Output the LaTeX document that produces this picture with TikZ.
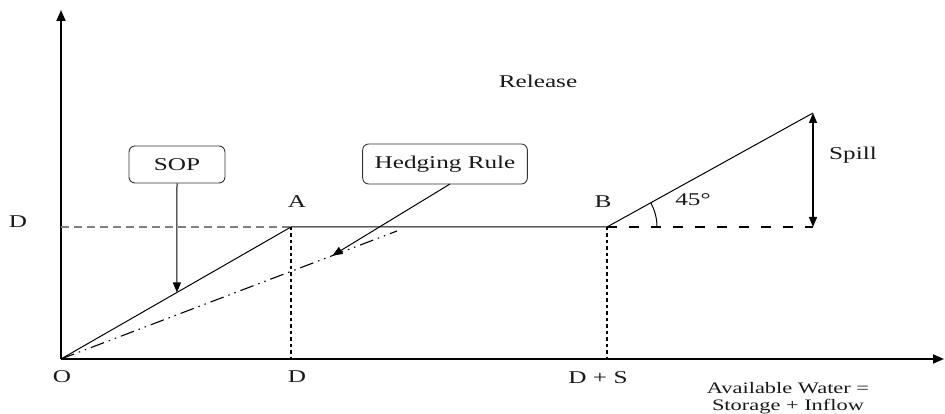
\documentclass[tikz,border=0pt]{standalone}
\usepackage{fontspec}
\setmainfont{Liberation Serif}[FakeStretch=1.4]
\usetikzlibrary{arrows.meta,calc}
\begin{document}
\begin{tikzpicture}[x=1pt,y=1pt,
  lbl/.style={font=\fontsize{18}{20}\selectfont, text=black!90, inner sep=0pt},
  sml/.style={font=\fontsize{16}{18}\selectfont, text=black!90, inner sep=0pt},
  callout/.style={draw=black!80, rounded corners=6pt, line width=0.9pt, minimum width=96pt, minimum height=37pt, font=\fontsize{18}{20}\selectfont, text=black!90},
  axis/.style={line width=1.8pt, -{Triangle[length=11pt,width=9pt]}},
  thin/.style={line width=1pt},
  tip/.style={-{Triangle[length=10pt,width=8pt]}}]
\useasboundingbox (0,0) rectangle (945,414);
\fill[white] (0,0) rectangle (945,414);
% key points
\coordinate (O) at (61,55);
\coordinate (Ytop) at (61,404);
\coordinate (Xend) at (944,55);
\coordinate (Dl) at (61,187);
\coordinate (A) at (291,187);
\coordinate (B) at (607,187);
\coordinate (E) at (813,187);
\coordinate (S) at (813,301);
\coordinate (Ag) at (291,55);
\coordinate (Bg) at (607,55);
\coordinate (He) at (397,183);
% axes
\draw[axis] (O) -- (Ytop);
\draw[axis] (O) -- (Xend);
% D level
\draw[gray, line width=1.2pt, dash pattern=on 8pt off 5pt] (Dl) -- (A);
\draw[thin] (O) -- (A) -- (B) -- (S);
\draw[line width=1.5pt, dash pattern=on 3.5pt off 3pt] (A) -- (Ag);
\draw[line width=1.5pt, dash pattern=on 3.5pt off 3pt] (B) -- (Bg);
\draw[line width=1.3pt, dash pattern=on 10pt off 12pt] (B) -- (E);
\draw[line width=1.4pt, {Triangle[length=10pt,width=8pt]}-{Triangle[length=10pt,width=8pt]}] (E) -- (S);
\draw[thin] ($(B)+(50,0)$) arc[start angle=0,end angle=29,radius=50];
% hedging line
\draw[line width=1.1pt, dash pattern=on 14pt off 5pt on 1.5pt off 5pt on 1.5pt off 5pt] (O) -- (He);
% callouts
\node[callout] (sop) at (177,249.5) {SOP};
\node[callout, minimum height=40pt, inner xsep=12pt] (hr) at (445,250) {Hedging Rule};
\coordinate (sopTip) at ($(O)!0.504!(A)$);
\coordinate (hrTip) at ($(O)!0.808!(He)$);
\coordinate (hrStart) at (450,230);
\draw[thin, tip] (sop.south) -- (sopTip);
\draw[thin, tip] (hrStart) -- (hrTip);
% labels
\node[lbl] (lD) at (18,192) {D};
\node[lbl] (lA) at (297,212) {A};
\node[lbl] (lB) at (603,212) {B};
\node[lbl] (l45) at (693,214) {45\textdegree};
\node[lbl] (lSpill) at (853,259) {Spill};
\node[lbl] (lRel) at (538,333) {Release};
\node[lbl] (lO) at (62,37) {O};
\node[lbl] (lD2) at (297,37) {D};
\node[lbl] (lDS) at (598,36) {D + S};
\node[sml] (lAW) at (788,26) {Available Water =};
\node[sml] (lSI) at (788,7) {Storage + Inflow};
\end{tikzpicture}
\end{document}
